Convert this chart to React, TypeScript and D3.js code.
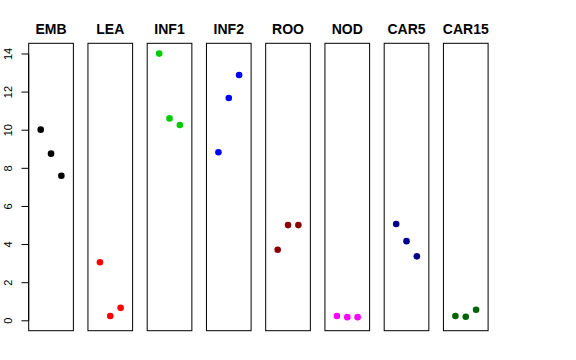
import React, { useEffect, useRef } from "react";
import * as d3 from "d3";

// tissues, one panel each
const tissues = ["EMB", "LEA", "INF1", "INF2", "ROO", "NOD", "CAR5", "CAR15"];
// three replicates per tissue
const rep1 = [10.03, 3.07, 14.02, 8.84, 3.73, 0.25, 5.08, 0.25];
const rep2 = [8.77, 0.25, 10.62, 11.69, 5.02, 0.19, 4.18, 0.21];
const rep3 = [7.61, 0.68, 10.27, 12.9, 5.02, 0.19, 3.38, 0.58];
const colors = ["#000000", "#FF0000", "#00CD00", "#0000FF", "#8B0000", "#FF00FF", "#00008B", "#006400"];
const yTicks = [0, 2, 4, 6, 8, 10, 12, 14];

const App: React.FC = () => {
  const svgRef = useRef<SVGSVGElement>(null);

  useEffect(() => {
    if (!svgRef.current) return;
    const width = 576;
    const height = 360;
    const top = 43.3;
    const bottom = 330.7;

    const svg = d3.select(svgRef.current).attr("width", width).attr("height", height);
    svg.selectAll("*").remove();

    const x = d3.scaleBand<string>().domain(tissues).range([28.7, 488.1]).paddingInner(0.246);
    const y = d3.scaleLinear().domain([-0.52, 14.56]).range([bottom, top]);
    const xin = d3.scaleLinear().domain([-0.16, 4.16]).range([0, x.bandwidth()]);

    const panels = svg
      .selectAll("g.panel")
      .data(tissues)
      .enter()
      .append("g")
      .attr("class", "panel")
      .attr("transform", (d) => `translate(${x(d)},0)`);

    panels
      .append("rect")
      .attr("x", 0)
      .attr("y", top)
      .attr("width", x.bandwidth())
      .attr("height", bottom - top)
      .attr("fill", "none")
      .attr("stroke", "#000")
      .attr("stroke-width", 1);

    panels
      .append("text")
      .attr("x", x.bandwidth() / 2)
      .attr("y", 34)
      .attr("text-anchor", "middle")
      .attr("font-family", "Liberation Sans, Arial, sans-serif")
      .attr("font-weight", "bold")
      .attr("font-size", 14)
      .text((d) => d);

    panels
      .selectAll("circle")
      .data((d, i) => [rep1[i], rep2[i], rep3[i]].map((v) => ({ v, c: colors[i] })))
      .enter()
      .append("circle")
      .attr("cx", (d, j) => xin(j + 1))
      .attr("cy", (d) => y(d.v))
      .attr("r", 3.3)
      .attr("fill", (d) => d.c);

    // y axis on the left of the first panel
    const axis = svg.append("g").attr("transform", `translate(${x(tissues[0])},0)`);
    axis
      .append("line")
      .attr("x1", 0)
      .attr("x2", 0)
      .attr("y1", y(0))
      .attr("y2", y(14))
      .attr("stroke", "#000");
    axis
      .selectAll("line.tick")
      .data(yTicks)
      .enter()
      .append("line")
      .attr("class", "tick")
      .attr("x1", -7.2)
      .attr("x2", 0)
      .attr("y1", (d) => y(d))
      .attr("y2", (d) => y(d))
      .attr("stroke", "#000");
    axis
      .selectAll("text")
      .data(yTicks)
      .enter()
      .append("text")
      .attr("transform", (d) => `translate(${-16.8},${y(d)}) rotate(-90)`)
      .attr("text-anchor", "middle")
      .attr("font-family", "Liberation Sans, Arial, sans-serif")
      .attr("font-size", 11)
      .text((d) => d);
  }, []);

  return (
    <svg
      ref={svgRef}
      style={{ position: "absolute", left: 0, top: 0, background: "#fff" }}
    ></svg>
  );
};

export default App;
